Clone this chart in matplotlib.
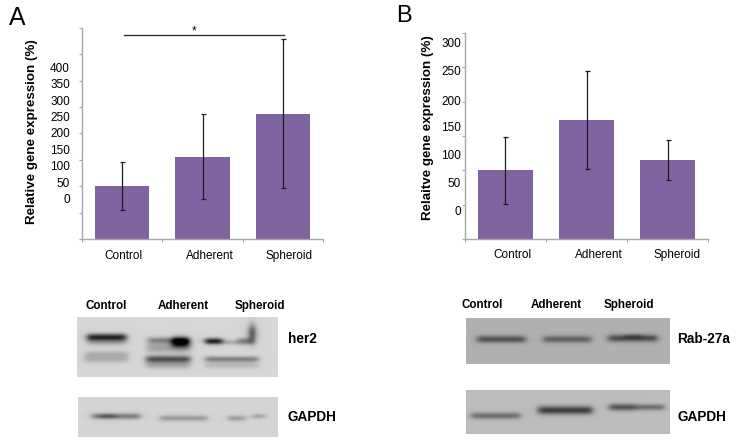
import numpy as np
import matplotlib
matplotlib.use("Agg")
import matplotlib.pyplot as plt

plt.rcParams['font.family'] = ['Liberation Sans', 'DejaVu Sans']

W, H = 740, 448
categories = ['Control', 'Adherent', 'Spheroid']
a_values = [100, 155, 236]
a_err_low = [55, 75, 96]
a_err_high = [145, 236, 378]
b_values = [100, 173, 115]
b_err_low = [51, 102, 86]
b_err_high = [149, 244, 144]
a_tick_labels = ['0', '50', '100', '150', '200', '250', '300', '350', '400']
b_tick_labels = ['0', '50', '100', '150', '200', '250', '300']
a_label_y = [199, 182.7, 166, 150, 133.3, 117, 100.7, 84, 67.7]
b_label_y = [210.7, 182.7, 155.3, 127, 101, 71, 43.3]

BAR = '#8064a2'
AXC = '#a8a8a8'
fig = plt.figure(figsize=(W / 100, H / 100), dpi=100)


def chart(box, ymax, values, lo, hi, n_ticks):
    l, t, r, b = box
    ax = fig.add_axes([l / W, 1 - b / H, (r - l) / W, (b - t) / H])
    x = np.arange(3) + 0.5
    ax.bar(x, values, width=0.676, color=BAR)
    for xi, a, c in zip(x, lo, hi):
        ax.errorbar(xi, (a + c) / 2, yerr=(c - a) / 2, color='#1c1c1c', lw=0.9,
                    capsize=1.8, capthick=0.9)
    ax.set_xlim(0, 3)
    ax.set_ylim(0, ymax)
    ax.set_xticks(range(4))
    ax.set_yticks(np.arange(n_ticks) * 50)
    ax.set_xticklabels([])
    ax.set_yticklabels([])
    ax.tick_params(length=2.2, width=0.8, color=AXC)
    for s in ('top', 'right'):
        ax.spines[s].set_visible(False)
    for s in ('left', 'bottom'):
        ax.spines[s].set_color(AXC)
        ax.spines[s].set_linewidth(1.0)
    ax.patch.set_alpha(0)
    return ax


ax_a = chart((81.7, 27.7, 323.3, 239), 400, a_values, a_err_low, a_err_high, 9)
ax_b = chart((464.7, 32.7, 708.3, 239.3), 300, b_values, b_err_low, b_err_high, 7)
ax_a.plot([0.524, 2.507], [387, 387], color='#333333', lw=1, clip_on=False)
ax_a.text(1.40, 393, '*', ha='center', va='center', fontsize=8.5, clip_on=False)

ov = fig.add_axes([0, 0, 1, 1], zorder=-1)
ov.set_xlim(0, W)
ov.set_ylim(H, 0)
ov.axis('off')


def smooth(img, sigma):
    r = int(3 * sigma)
    k = np.exp(-0.5 * (np.arange(-r, r + 1) / sigma) ** 2)
    k /= k.sum()
    pad = np.pad(img, r, mode='edge')
    pad = np.apply_along_axis(lambda v: np.convolve(v, k, mode='same'), 0, pad)
    pad = np.apply_along_axis(lambda v: np.convolve(v, k, mode='same'), 1, pad)
    return pad[r:-r, r:-r]


def blot(ext, base, bands):
    x0, x1, y0, y1 = ext
    xs = np.arange(x0, x1, 0.5)
    ys = np.arange(y0, y1, 0.5)
    X, Y = np.meshgrid(xs, ys)
    img = np.full(X.shape, float(base))
    for bx0, bx1, by, th, s in bands:
        prof = 0.5 * (np.tanh((X - bx0) / 3.5) - np.tanh((X - bx1) / 3.5))
        img -= s * prof * np.exp(-((Y - by) / th) ** 2)
    img = smooth(img, 2.4)
    ov.imshow(np.clip(img, 0, 1), cmap='gray', vmin=0, vmax=1,
              extent=(x0, x1, y1, y0), aspect='auto', interpolation='bilinear')


blot((77, 278, 317, 377), 0.84, [
    (87, 126, 337, 3.2, 0.78), (87, 126, 342, 3.0, 0.2), (85, 128, 354, 3.0, 0.16),
    (84, 128, 359, 3.5, 0.16), (148, 188, 340, 2.6, 0.35), (172, 189, 342, 4.8, 0.85),
    (147, 190, 347, 5.5, 0.22), (146, 190, 359, 3.2, 0.6), (146, 190, 365, 3.0, 0.2),
    (205, 222, 341, 2.6, 0.9), (222, 240, 342, 2.0, 0.2), (238, 253, 341, 3.0, 0.4),
    (250, 254, 333, 9.0, 1.0), (205, 258, 359, 2.4, 0.42), (205, 258, 365, 2.6, 0.14)])
blot((78, 278, 397, 437), 0.83, [
    (92, 140, 416, 2.4, 0.42), (100, 115, 416, 1.8, 0.22), (160, 207, 418, 2.4, 0.28),
    (228, 245, 418, 2.2, 0.28), (252, 265, 416, 1.5, 0.3)])
blot((466, 670, 318, 364), 0.69, [
    (477, 525, 339, 3.2, 0.42), (543, 591, 339, 3.2, 0.34), (608, 657, 338, 3.2, 0.45),
    (625, 642, 336, 2.0, 0.15)])
blot((466, 670, 390, 434), 0.74, [
    (471, 520, 415.5, 2.8, 0.36), (538, 592, 410, 3.8, 0.55), (609, 635, 407, 3.0, 0.48),
    (635, 664, 407, 2.5, 0.38)])

tick_fs = 8.5
blot_fs = 8.4
side_fs = 9.8

for x, s in zip([123.7, 210, 288.7], categories):
    ov.text(x, 256, s, ha='center', va='center', fontsize=tick_fs)
for x, s in zip([512.7, 599, 677.3], categories):
    ov.text(x, 255, s, ha='center', va='center', fontsize=tick_fs)
for y, s in zip(a_label_y, a_tick_labels):
    ov.text(70, y + 1, s, ha='right', va='center', fontsize=tick_fs)
for y, s in zip(b_label_y, b_tick_labels):
    ov.text(461, y + 1, s, ha='right', va='center', fontsize=tick_fs)

ov.text(32, 131.7, 'Relative gene expression (%)', rotation=90, ha='center',
        va='center', fontsize=9.6, fontweight='bold')
ov.text(428.5, 128, 'Relaitve gene expression (%)', rotation=90, ha='center',
        va='center', fontsize=9.6, fontweight='bold')
ov.text(9, 18, 'A', ha='left', va='center', fontsize=17.8)
ov.text(396, 16.5, 'B', ha='left', va='center', fontsize=17.0)

for x, s in zip([106, 183.7, 259.7], categories):
    ov.text(x, 306, s, ha='center', va='center', fontsize=blot_fs, fontweight='bold')
for x, s in zip([482, 556.7, 629.3], categories):
    ov.text(x, 305, s, ha='center', va='center', fontsize=blot_fs, fontweight='bold')
ov.text(288, 339, 'her2', ha='left', va='center', fontsize=side_fs, fontweight='bold')
ov.text(288, 417, 'GAPDH', ha='left', va='center', fontsize=side_fs, fontweight='bold')
ov.text(677, 339, 'Rab-27a', ha='left', va='center', fontsize=side_fs, fontweight='bold')
ov.text(677, 417, 'GAPDH', ha='left', va='center', fontsize=side_fs, fontweight='bold')
ov.set_xlim(0, W)
ov.set_ylim(H, 0)

fig.savefig('out.png', dpi=100)
